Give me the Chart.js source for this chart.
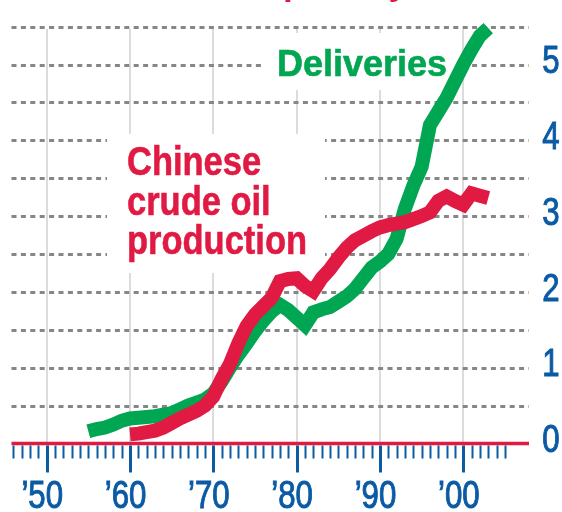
<!DOCTYPE html>
<html>
<head>
<meta charset="utf-8">
<script src="https://cdn.jsdelivr.net/npm/chart.js@4.4.1/dist/chart.umd.min.js"></script>
<style>
  html, body { margin: 0; padding: 0; background: #fff; }
  #chart { display: block; }
</style>
</head>
<body>
<canvas id="chart" width="562" height="512"></canvas>
<script>
// Years and values, million barrels per day
const deliveryYears = [1955, 1956, 1957, 1958, 1959, 1960, 1961, 1962, 1963, 1964,
  1965, 1966, 1967, 1968, 1969, 1970, 1971, 1972, 1973, 1974,
  1975, 1976, 1977, 1978, 1979, 1980, 1981, 1982, 1983, 1984,
  1985, 1986, 1987, 1988, 1989, 1990, 1991, 1992, 1993, 1994,
  1995, 1996, 1997, 1998, 1999, 2000, 2001, 2002, 2003];
const deliveries = [0.16, 0.19, 0.21, 0.25, 0.30, 0.33, 0.34, 0.35, 0.36, 0.38,
  0.40, 0.45, 0.50, 0.54, 0.58, 0.66, 0.82, 1.00, 1.17, 1.32,
  1.48, 1.62, 1.74, 1.83, 1.76, 1.66, 1.56, 1.73, 1.77, 1.80,
  1.87, 1.94, 2.04, 2.18, 2.32, 2.40, 2.50, 2.70, 3.10, 3.40,
  3.65, 4.20, 4.38, 4.56, 4.78, 5.00, 5.20, 5.38, 5.48];

const productionYears = [1960, 1961, 1962, 1963, 1964, 1965, 1966, 1967, 1968, 1969,
  1970, 1971, 1972, 1973, 1974, 1975, 1976, 1977, 1978, 1979,
  1980, 1981, 1982, 1983, 1984, 1985, 1986, 1987, 1988, 1989,
  1990, 1991, 1992, 1993, 1994, 1995, 1996, 1997, 1998, 1999,
  2000, 2001, 2002, 2003];
const production = [0.12, 0.13, 0.15, 0.17, 0.21, 0.27, 0.33, 0.38, 0.43, 0.50,
  0.62, 0.85, 1.05, 1.32, 1.55, 1.70, 1.81, 1.92, 2.14, 2.17,
  2.18, 2.08, 2.01, 2.18, 2.30, 2.45, 2.58, 2.68, 2.74, 2.80,
  2.85, 2.88, 2.90, 2.92, 2.96, 3.00, 3.05, 3.20, 3.26, 3.20,
  3.15, 3.30, 3.27, 3.24];

const decadeTicks = [1950, 1960, 1970, 1980, 1990, 2000];
const decadeLabels = ['\u201950', '\u201960', '\u201970', '\u201980', '\u201990', '\u201900'];
const valueTicks = [0, 1, 2, 3, 4, 5];
const gridValues = [0.5, 1, 1.5, 2, 2.5, 3, 3.5, 4, 4.5, 5, 5.5];
const firstYearTick = 1946;
const lastYearTick = 2005;

const GREEN = '#00a651';
const RED = '#e11a43';
const BLUE = '#0a5aa4';
const FONT = "'Liberation Sans', Arial, sans-serif";
const SQUEEZE = 0.8;   // fake a condensed face

function toPoints(xs, ys) {
    return xs.map((x, i) => ({ x: x, y: ys[i] }));
}

// draw text with a horizontal scale, left edge at x
function fitText(ctx, text, x, y, scale, outline) {
    ctx.save();
    ctx.translate(x, y);
    ctx.scale(scale, 1);
    ctx.fillText(text, 0, 0);
    if (outline) {
        ctx.lineWidth = outline;
        ctx.strokeText(text, 0, 0);
    }
    ctx.restore();
}

const decorations = {
    id: 'decorations',
    beforeDatasetsDraw(chart) {
        const ctx = chart.ctx;
        const xs = chart.scales.x;
        const ys = chart.scales.y;
        const left = 11.5, right = 529;
        const base = ys.getPixelForValue(0);

        ctx.save();

        // vertical decade lines
        ctx.strokeStyle = '#dcdcdc';
        ctx.lineWidth = 2;
        decadeTicks.forEach(d => {
            const px = Math.round(xs.getPixelForValue(d));
            ctx.beginPath();
            ctx.moveTo(px, ys.getPixelForValue(5.47));
            ctx.lineTo(px, base);
            ctx.stroke();
        });

        // dotted horizontal grid
        ctx.strokeStyle = '#868686';
        ctx.lineWidth = 3;
        ctx.setLineDash([5, 4.4]);
        gridValues.forEach(v => {
            const py = Math.round(ys.getPixelForValue(v)) + 0.5;
            ctx.beginPath();
            ctx.moveTo(left, py);
            ctx.lineTo(right, py);
            ctx.stroke();
        });
        ctx.setLineDash([]);

        // white boxes behind the labels
        ctx.fillStyle = '#fff';
        ctx.fillRect(262, 33, 195, 57);
        ctx.fillRect(107, 134, 218, 139);

        // series labels
        ctx.textBaseline = 'alphabetic';
        ctx.textAlign = 'left';
        ctx.font = 'bold 37px ' + FONT;
        ctx.fillStyle = GREEN;
        ctx.strokeStyle = GREEN;
        let w = ctx.measureText('Deliveries').width;
        fitText(ctx, 'Deliveries', 277, 75.5, 170 / w, 0.6);

        ctx.font = 'bold 40px ' + FONT;
        ctx.fillStyle = RED;
        ctx.strokeStyle = RED;
        w = ctx.measureText('production').width;
        const s = 180 / w;
        fitText(ctx, 'Chinese', 127, 174.5, s, 0.6);
        fitText(ctx, 'crude oil', 127, 214.5, s, 0.6);
        fitText(ctx, 'production', 127, 253.5, s, 0.6);

        // title, mostly above the picture
        ctx.font = 'bold 37px ' + FONT;
        const pre = ctx.measureText('Million barrels ').width;
        fitText(ctx, 'Million barrels per day', 283 - pre * 0.95, -6, 0.95);

        // baseline
        ctx.strokeStyle = RED;
        ctx.lineWidth = 3.5;
        ctx.beginPath();
        ctx.moveTo(left, base);
        ctx.lineTo(right, base);
        ctx.stroke();

        // year ticks
        ctx.strokeStyle = BLUE;
        for (let yr = firstYearTick; yr <= lastYearTick; yr++) {
            const major = yr % 10 === 0;
            const px = Math.round(xs.getPixelForValue(yr)) + 0.5;
            ctx.lineWidth = major ? 3 : 2;
            ctx.beginPath();
            ctx.moveTo(px, base + 2);
            ctx.lineTo(px, base + (major ? 29 : 15));
            ctx.stroke();
        }

        // year labels, digits centred under the tick
        ctx.fillStyle = BLUE;
        ctx.strokeStyle = BLUE;
        ctx.font = '39px ' + FONT;
        ctx.textBaseline = 'alphabetic';
        ctx.textAlign = 'left';
        decadeLabels.forEach((lab, i) => {
            const px = xs.getPixelForValue(decadeTicks[i]);
            const dw = ctx.measureText(lab.slice(1)).width * SQUEEZE;
            const aw = ctx.measureText(lab[0]).width * SQUEEZE;
            fitText(ctx, lab, px - dw / 2 - aw - 1, 508, SQUEEZE, 1);
        });

        // value labels on the right
        ctx.textBaseline = 'middle';
        valueTicks.forEach(v => {
            const t = String(v);
            const tw = ctx.measureText(t).width * SQUEEZE;
            fitText(ctx, t, 551 - tw / 2, ys.getPixelForValue(v) - 2, SQUEEZE, 1);
        });

        ctx.restore();
    }
};

new Chart(document.getElementById('chart'), {
    type: 'line',
    data: {
        datasets: [{
            label: 'Chinese crude oil production',
            data: toPoints(productionYears, production),
            borderColor: RED,
            borderWidth: 14,
            pointRadius: 0,
            tension: 0,
            borderJoinStyle: 'miter',
            borderCapStyle: 'butt'
        }, {
            label: 'Deliveries',
            data: toPoints(deliveryYears, deliveries),
            borderColor: GREEN,
            borderWidth: 14,
            pointRadius: 0,
            tension: 0,
            borderJoinStyle: 'miter',
            borderCapStyle: 'butt'
        }]
    },
    options: {
        responsive: false,
        animation: false,
        layout: { padding: 0 },
        plugins: {
            legend: { display: false },
            tooltip: { enabled: false }
        },
        scales: {
            x: { type: 'linear', min: 1944.4, max: 2011.85, display: false },
            y: { min: -0.904, max: 5.851, display: false }
        }
    },
    plugins: [decorations]
});
</script>
</body>
</html>
